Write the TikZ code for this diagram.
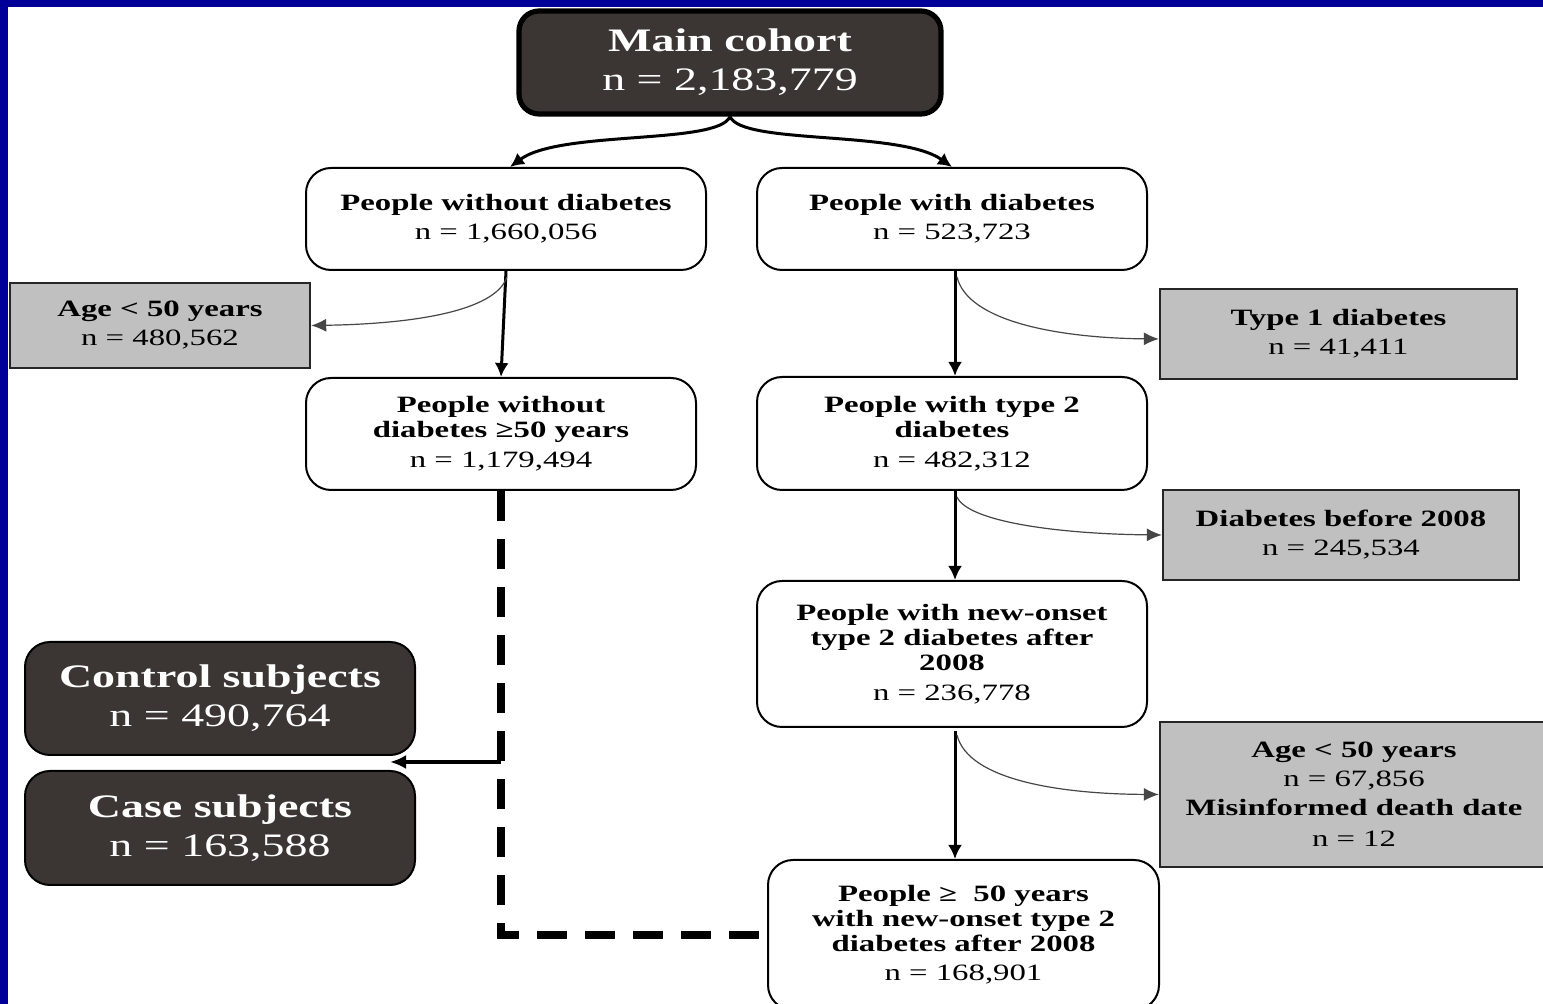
\documentclass[tikz,border=0pt]{standalone}
\usepackage{fontspec}
\setmainfont{Liberation Serif}[FakeStretch=1.4]
\usetikzlibrary{arrows.meta,calc}
\definecolor{bluebg}{RGB}{0,0,153}
\definecolor{darkbox}{RGB}{59,54,52}
\definecolor{graybox}{RGB}{192,192,192}
\definecolor{thinline}{RGB}{70,70,70}
\begin{document}
\begin{tikzpicture}[x=0.5pt,y=-0.5pt,
  smallfont/.style={font=\fontsize{11.7}{12.5}\selectfont},
  bigfont/.style={font=\fontsize{16.4}{19.5}\selectfont},
  wbox/.style={draw=black, line width=1pt, rounded corners=12.5pt, fill=white,
    align=center, inner sep=0pt, text=black, smallfont},
  gbox/.style={draw=black!85, line width=1.2pt, fill=graybox,
    align=center, inner sep=0pt, text=black, smallfont},
  dbox/.style={draw=black, line width=1pt, rounded corners=12.5pt, fill=darkbox,
    align=center, inner sep=0pt, text=white, bigfont},
  thickarrow/.style={line width=1.5pt, -{Latex[length=7pt,width=7pt]}},
  thinarrow/.style={draw=thinline, line width=0.6pt, -{Latex[length=7.5pt,width=6.5pt]}},
  dashline/.style={line width=4pt, dash pattern=on 15pt off 9pt}
]
\useasboundingbox (0,0) rectangle (1543,1004);
\fill[bluebg] (0,0) rectangle (1543,1004);
\fill[white] (8,7) rectangle (1543,1004);

% nodes
\node[dbox, line width=2.6pt, rounded corners=10pt, minimum width=211pt, minimum height=51.5pt] (main) at (730,62.5)
  {\textbf{Main cohort}\\ n = 2,183,779};
\node[wbox, minimum width=200pt, minimum height=51pt] (nod) at (506,219)
  {\textbf{People without diabetes}\\[2pt] n = 1,660,056};
\node[wbox, minimum width=195pt, minimum height=51pt] (wd) at (952,219)
  {\textbf{People with diabetes}\\[2pt] n = 523,723};
\node[gbox, minimum width=150pt, minimum height=42.5pt] (age1) at (160,325.5)
  {\textbf{Age < 50 years}\\[2pt] n = 480,562};
\node[wbox, minimum width=195pt, minimum height=56pt] (nd50) at (501,434)
  {\textbf{People without}\\ \textbf{diabetes ≥50 years}\\[2.5pt] n = 1,179,494};
\node[gbox, minimum width=178.5pt, minimum height=45pt] (t1) at (1338.5,334)
  {\textbf{Type 1 diabetes}\\[2pt] n = 41,411};
\node[wbox, minimum width=195pt, minimum height=56.5pt] (t2) at (952,433.5)
  {\textbf{People with type 2}\\ \textbf{diabetes}\\[2.5pt] n = 482,312};
\node[gbox, minimum width=178pt, minimum height=45pt] (b2008) at (1341,535)
  {\textbf{Diabetes before 2008}\\[2pt] n = 245,534};
\node[wbox, minimum width=195pt, minimum height=73pt] (nonset) at (952,654)
  {\textbf{People with new-onset}\\ \textbf{type 2 diabetes after}\\ \textbf{2008}\\[2.5pt] n = 236,778};
\node[gbox, minimum width=194pt, minimum height=72.5pt] (age2) at (1354,794.5)
  {\textbf{Age < 50 years}\\[2pt] n = 67,856\\[2pt] \textbf{Misinformed death date}\\[3pt] n = 12};
\node[wbox, minimum width=195.5pt, minimum height=75pt] (old) at (963.5,935)
  {\textbf{People ≥\ \ 50 years}\\ \textbf{with new-onset type 2}\\ \textbf{diabetes after 2008}\\[2pt] n = 168,901};
\node[dbox, minimum width=195pt, minimum height=56.5pt] (ctrl) at (220,698.5)
  {\textbf{Control subjects}\\ n = 490,764};
\node[dbox, minimum width=195pt, minimum height=57pt] (case) at (220,828)
  {\textbf{Case subjects}\\ n = 163,588};

% connectors
\draw[thickarrow] (main.south) .. controls (718,145) and (560,130) .. ($(nod.north)+(4,0)$);
\draw[thickarrow] (main.south) .. controls (742,145) and (900,130) .. (wd.north);

\draw[thickarrow] (nod.south) -- (nd50.north);
\draw[thinarrow] ($(nod.south)+(1,6)$) .. controls (495,312) and (410,324) .. (age1.east);

\coordinate (wds) at ($(wd.south)+(3,0)$);
\draw[thickarrow] (wds) -- (wds |- t2.north);
\draw[thinarrow] ($(wds)+(2,6)$) .. controls (968,322) and (1060,338) .. ($(t1.west)+(0,5)$);

\coordinate (t2s) at ($(t2.south)+(3,0)$);
\draw[thickarrow] (t2s) -- (t2s |- nonset.north);
\draw[thinarrow] ($(t2s)+(2,6)$) .. controls (968,522) and (1060,534) .. (b2008.west);

\coordinate (nss) at ($(nonset.south)+(3,3)$);
\draw[thickarrow] (nss) -- (nss |- old.north);
\draw[thinarrow] ($(nss)+(2,4)$) .. controls (968,780) and (1060,794) .. (age2.west);

\draw[dashline] (nd50.south) |- (old.west);
\coordinate (j) at (501,762);
\coordinate (ctip) at (390,762);
\draw[line width=2pt, -{Latex[length=8pt,width=7pt]}] (j) -- (ctip);
\end{tikzpicture}
\end{document}
